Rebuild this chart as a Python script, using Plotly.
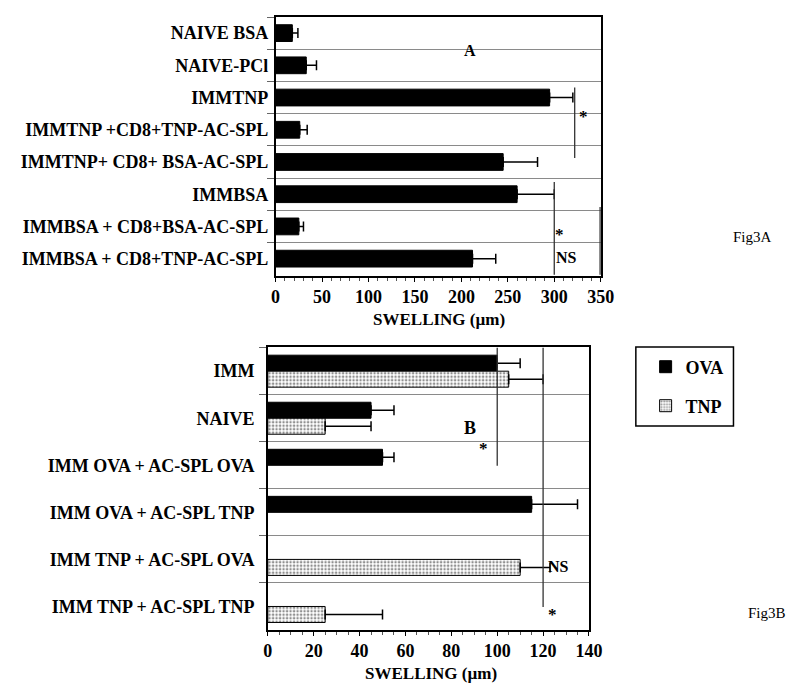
import plotly.graph_objects as go

# ---------------- data ----------------
labels_a = ["NAIVE BSA", "NAIVE-PCl", "IMMTNP", "IMMTNP +CD8+TNP-AC-SPL",
            "IMMTNP+ CD8+ BSA-AC-SPL", "IMMBSA", "IMMBSA + CD8+BSA-AC-SPL",
            "IMMBSA + CD8+TNP-AC-SPL"]
swelling_a = [18, 33, 295, 26, 245, 260, 25, 212]
err_a = [6, 11, 25, 8, 37, 40, 5, 25]

labels_b = ["IMM", "NAIVE", "IMM OVA + AC-SPL OVA", "IMM OVA + AC-SPL TNP",
            "IMM TNP + AC-SPL OVA", "IMM TNP + AC-SPL TNP"]
ova_b = [100, 45, 50, 115, None, None]
ova_err_b = [10, 10, 5, 20, 0, 0]
tnp_b = [105, 25, None, None, 110, 25]
tnp_err_b = [15, 20, 0, 0, 13, 25]

ticks_a = [0, 50, 100, 150, 200, 250, 300, 350]
ticks_b = [0, 20, 40, 60, 80, 100, 120, 140]

SERIF = "Liberation Serif, Times New Roman, serif"
W, H = 800, 687

def px_x(p):
    return p / W

def px_y(p):
    return 1 - p / H

fig = go.Figure()

# Panel A
fig.add_trace(go.Bar(
    y=labels_a, x=swelling_a, orientation="h", xaxis="x", yaxis="y",
    width=0.52, offset=-0.26,
    marker=dict(color="black", line=dict(color="black", width=1)),
    error_x=dict(type="data", array=err_a, arrayminus=[0] * len(err_a),
                 symmetric=False, color="black", thickness=1.5, width=5),
    showlegend=False,
))

# Panel B
fig.add_trace(go.Bar(
    y=labels_b, x=ova_b, orientation="h", xaxis="x2", yaxis="y2", name="OVA",
    width=0.34, offset=-0.34,
    marker=dict(color="black", line=dict(color="black", width=1)),
    error_x=dict(type="data", array=ova_err_b, arrayminus=[0] * len(ova_err_b),
                 symmetric=False, color="black", thickness=1.5, width=5),
    legend="legend",
))
fig.add_trace(go.Bar(
    y=labels_b, x=tnp_b, orientation="h", xaxis="x2", yaxis="y2", name="TNP",
    width=0.34, offset=0,
    marker=dict(color="white", line=dict(color="black", width=1),
                pattern=dict(shape=".", fgcolor="#222", bgcolor="white",
                             size=3.5, solidity=0.4)),
    error_x=dict(type="data", array=tnp_err_b, arrayminus=[0] * len(tnp_err_b),
                 symmetric=False, color="black", thickness=1.5, width=5),
    legend="legend2",
))

tickfont = dict(family=SERIF, size=18, color="black", weight="bold")
catfont = dict(family=SERIF, size=18, color="black", weight="bold")

xcommon = dict(showline=True, mirror=True, linecolor="black", linewidth=1.5,
               showgrid=False, zeroline=False, ticks="outside", ticklen=4,
               tickcolor="black", tickfont=tickfont)
ycommon = dict(type="category", autorange="reversed", tickson="boundaries",
               ticks="outside", ticklen=7, tickcolor="#666",
               showgrid=True, gridcolor="#8a8a8a", gridwidth=1.2,
               showline=True, mirror=True, linecolor="black", linewidth=1.5,
               tickfont=catfont, zeroline=False)

fig.update_layout(
    width=W, height=H, barmode="overlay",
    margin=dict(l=0, r=0, t=0, b=0),
    paper_bgcolor="white", plot_bgcolor="white",
    xaxis=dict(domain=[px_x(269), px_x(602)], range=[0, 350],
               tickvals=ticks_a, anchor="y",
               minor=dict(ticks="outside", dtick=10, ticklen=3, tickcolor="#555"),
               **xcommon),
    yaxis=dict(domain=[px_y(268), px_y(9)], anchor="x",
               categoryorder="array", categoryarray=labels_a,
               ticklabelstandoff=2, **ycommon),
    xaxis2=dict(domain=[px_x(261), px_x(590)], range=[0, 140],
                tickvals=ticks_b, anchor="y2",
                minor=dict(ticks="outside", dtick=5, ticklen=3, tickcolor="#555"),
                **xcommon),
    yaxis2=dict(domain=[px_y(622), px_y(339)], anchor="x2",
                categoryorder="array", categoryarray=labels_b,
                ticklabelstandoff=8, **ycommon),
    legend=dict(x=px_x(648), y=px_y(359), xanchor="left", yanchor="middle",
                font=dict(family=SERIF, size=18, color="black", weight="bold"),
                bgcolor="rgba(0,0,0,0)", borderwidth=0),
    legend2=dict(x=px_x(648), y=px_y(398), xanchor="left", yanchor="middle",
                 font=dict(family=SERIF, size=18, color="black", weight="bold"),
                 bgcolor="rgba(0,0,0,0)", borderwidth=0),
)

shapes = [
    # panel A significance lines
    dict(type="line", xref="x", yref="y", x0=322, x1=322, y0=1.69, y1=3.88,
         line=dict(color="#333", width=1.3)),
    dict(type="line", xref="x", yref="y", x0=300, x1=300, y0=4.62, y1=7.5,
         line=dict(color="#333", width=1.3)),
    dict(type="line", xref="x", yref="y", x0=350, x1=350, y0=5.4, y1=7.5,
         line=dict(color="#333", width=2.5)),
    # panel B significance lines
    dict(type="line", xref="x2", yref="y2", x0=100, x1=100, y0=-0.5, y1=2.01,
         line=dict(color="#333", width=1.3)),
    dict(type="line", xref="x2", yref="y2", x0=120, x1=120, y0=-0.5, y1=5.01,
         line=dict(color="#333", width=1.3)),
    # legend box
    dict(type="rect", xref="paper", yref="paper",
         x0=px_x(638), x1=px_x(738), y0=px_y(418), y1=px_y(339),
         line=dict(color="black", width=1.5)),
]
fig.update_layout(shapes=shapes)

bold = dict(family=SERIF, color="black", weight="bold")
ann = [
    dict(text="A", xref="x", yref="y", x=209, y=0.55, font=dict(size=16, **bold)),
    dict(text="*", xref="x", yref="y", x=331, y=2.6, font=dict(size=17, **bold)),
    dict(text="*", xref="x", yref="y", x=306, y=6.25, font=dict(size=17, **bold)),
    dict(text="NS", xref="x", yref="y", x=313, y=6.97,
         font=dict(size=16, **bold)),
    dict(text="B", xref="x2", yref="y2", x=88, y=1.2, font=dict(size=18, **bold)),
    dict(text="*", xref="x2", yref="y2", x=94, y=1.65, font=dict(size=17, **bold)),
    dict(text="*", xref="x2", yref="y2", x=124, y=5.18, font=dict(size=17, **bold)),
    dict(text="NS", xref="x2", yref="y2", x=126.8, y=4.14,
         font=dict(size=16, **bold)),
    dict(text="SWELLING (µm)", xref="paper", yref="paper",
         x=px_x(436), y=px_y(311), font=dict(size=17, **bold)),
    dict(text="SWELLING (µm)", xref="paper", yref="paper",
         x=px_x(428), y=px_y(665), font=dict(size=17, **bold)),
    dict(text="Fig3A", xref="paper", yref="paper", x=px_x(757), y=px_y(229),
         font=dict(family=SERIF, size=15, color="black")),
    dict(text="Fig3B", xref="paper", yref="paper", x=px_x(772), y=px_y(605),
         font=dict(family=SERIF, size=15, color="black")),
]
for a in ann:
    a.setdefault("showarrow", False)
    a.setdefault("xanchor", "center")
    a["yanchor"] = "middle"
fig.update_layout(annotations=ann)

fig.write_html("out.html")
